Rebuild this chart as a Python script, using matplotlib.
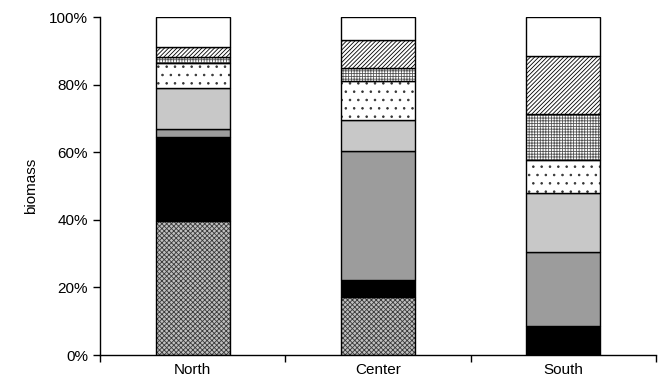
import numpy as np
import matplotlib
matplotlib.use("Agg")
from matplotlib import pyplot as plt
from matplotlib.ticker import PercentFormatter

plt.rcParams['font.family'] = ['Liberation Sans', 'DejaVu Sans']
plt.rcParams['hatch.linewidth'] = 0.6

# biomass share (%) per region, bottom segment first
regions = ['North', 'Center', 'South']
stipple = [39.6, 17.3, 0.0]
black = [24.8, 4.9, 8.6]
dark_grey = [2.6, 38.2, 22.0]
light_grey = [11.9, 9.1, 17.2]
dots = [7.4, 11.7, 9.9]
grid = [2.0, 3.6, 13.7]
diagonal = [2.7, 8.4, 17.0]
white = [9.0, 6.8, 11.6]

segments = [stipple, black, dark_grey, light_grey, dots, grid, diagonal, white]
# (facecolor, hatch, hatch colour)
styles = [
    ('#c0c0c0', 'xxxxxxx', '#3a3a3a'),
    ('#000000', None, '#000000'),
    ('#9c9c9c', None, '#9c9c9c'),
    ('#c8c8c8', None, '#c8c8c8'),
    ('#ffffff', '..', '#333333'),
    ('#ffffff', '++++++', '#555555'),
    ('#ffffff', '////////', '#000000'),
    ('#ffffff', None, '#ffffff'),
]

fig = plt.figure(figsize=(6.61, 3.84), dpi=100)
ax = fig.add_axes([0.1513, 0.0755, 0.8411, 0.8802])

x = np.arange(len(regions))
width = 0.4
bottom = np.zeros(len(regions))
for vals, (fc, hatch, hc) in zip(segments, styles):
    vals = np.array(vals)
    ax.bar(x, vals, width, bottom=bottom, color=fc, edgecolor=hc,
           hatch=hatch, linewidth=0)
    ax.bar(x, vals, width, bottom=bottom, fill=False, edgecolor='black',
           linewidth=1.0)
    bottom += vals

ax.set_xlim(-0.5, 2.5)
ax.set_ylim(0, 100)
ax.set_yticks(np.arange(0, 101, 20))
ax.yaxis.set_major_formatter(PercentFormatter(decimals=0))
ax.set_xticks(x)
ax.set_xticklabels(regions)
ax.set_xticks([-0.5, 0.5, 1.5, 2.5], minor=True)
ax.tick_params(axis='x', which='major', length=0, labelsize=11, pad=6)
ax.tick_params(axis='x', which='minor', length=5, width=1, direction='out')
ax.tick_params(axis='y', length=5, width=1, direction='out', labelsize=11)
ax.set_ylabel('biomass', fontsize=11, labelpad=8)

for side in ['top', 'right']:
    ax.spines[side].set_visible(False)
for side in ['left', 'bottom']:
    ax.spines[side].set_linewidth(1)

fig.savefig('out.png', dpi=100)
